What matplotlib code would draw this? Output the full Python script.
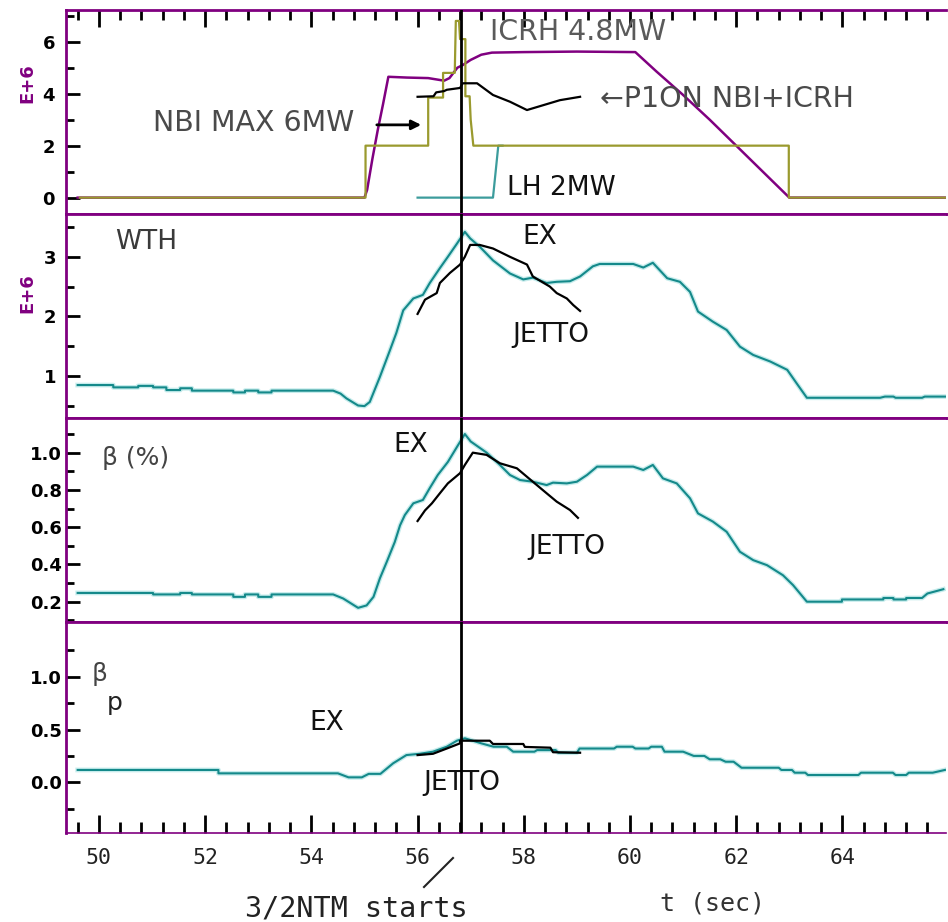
import matplotlib
matplotlib.use("Agg")
import matplotlib.pyplot as plt
import matplotlib.patheffects as pe
from matplotlib.lines import Line2D

# ---------------- data ----------------
# top panel: powers (E+6 W)
icrh_pts = [(49.6, 0), (55.0, 0), (55.05, 0.3), (55.15, 1.5), (55.25, 2.6), (55.35, 3.6),
            (55.45, 4.65), (55.8, 4.62), (56.2, 4.6), (56.5, 4.5), (56.6, 4.6), (56.75, 5.0),
            (56.85, 5.1), (57.0, 5.3), (57.2, 5.5), (57.4, 5.58), (58.0, 5.6), (59.0, 5.62),
            (60.1, 5.6), (60.5, 4.85), (61.0, 3.95), (61.5, 3.0), (62.0, 2.0), (62.5, 1.0),
            (63.0, 0.0), (65.95, 0.0)]
nbi_pts = [(49.64, 0), (55.02, 0), (55.02, 2.0), (56.2, 2.0), (56.2, 3.85), (56.48, 3.85),
           (56.48, 4.8), (56.7, 4.8), (56.72, 6.8), (56.78, 6.8), (56.8, 6.1), (56.9, 6.1),
           (56.9, 3.9), (56.98, 3.9), (57.0, 3.0), (57.05, 2.0), (62.99, 2.0), (62.99, 0.0),
           (65.93, 0.0)]
lh_pts = [(56.0, 0), (57.42, 0), (57.47, 1.0), (57.52, 2.0), (57.6, 2.0)]
p1on_pts = [(56.0, 3.88), (56.3, 3.9), (56.35, 4.05), (56.5, 4.1), (56.55, 4.15), (56.8, 4.22),
            (56.85, 4.4), (57.12, 4.4), (57.42, 3.95), (57.74, 3.69), (58.06, 3.37),
            (58.37, 3.56), (58.68, 3.75), (59.06, 3.88)]

# WTH (E+6 J)
wth_ex = [(49.6, 0.844), (50.27, 0.844), (50.27, 0.805), (50.74, 0.805), (50.74, 0.83),
          (51.02, 0.83), (51.02, 0.805), (51.27, 0.805), (51.27, 0.76), (51.53, 0.76),
          (51.53, 0.79), (51.75, 0.79), (51.75, 0.75), (52.53, 0.75), (52.53, 0.72),
          (52.75, 0.72), (52.75, 0.75), (53.0, 0.75), (53.0, 0.72), (53.25, 0.72),
          (53.25, 0.75), (54.41, 0.75), (54.55, 0.70), (54.66, 0.62), (54.88, 0.50),
          (55.0, 0.49), (55.1, 0.56), (55.29, 0.98), (55.48, 1.43), (55.6, 1.72), (55.73, 2.10),
          (55.92, 2.30), (56.1, 2.36), (56.23, 2.56), (56.42, 2.81), (56.57, 3.0), (56.74, 3.22),
          (56.89, 3.42), (56.99, 3.31), (57.17, 3.17), (57.42, 2.94), (57.74, 2.72),
          (57.99, 2.62), (58.17, 2.65), (58.43, 2.56), (58.62, 2.58), (58.87, 2.59),
          (59.06, 2.67), (59.3, 2.84), (59.43, 2.88), (60.06, 2.88), (60.25, 2.82),
          (60.43, 2.9), (60.7, 2.64), (60.94, 2.58), (61.13, 2.41), (61.28, 2.08),
          (61.56, 1.91), (61.82, 1.77), (62.07, 1.49), (62.32, 1.35), (62.64, 1.24),
          (62.96, 1.1), (63.14, 0.87), (63.33, 0.63), (64.71, 0.63), (64.8, 0.65),
          (64.96, 0.65), (65.0, 0.63), (65.5, 0.63), (65.55, 0.65), (65.93, 0.65)]
wth_jetto = [(56.0, 2.04), (56.14, 2.28), (56.36, 2.39), (56.42, 2.56), (56.61, 2.73),
             (56.8, 2.87), (56.89, 3.0), (56.99, 3.2), (57.17, 3.2), (57.42, 3.14),
             (57.74, 3.0), (58.06, 2.87), (58.17, 2.67), (58.49, 2.5), (58.62, 2.39),
             (58.81, 2.3), (58.93, 2.19), (59.06, 2.09)]

# beta (%)
beta_ex = [(49.6, 0.247), (51.02, 0.247), (51.02, 0.239), (51.53, 0.239), (51.53, 0.247),
           (51.75, 0.247), (51.75, 0.239), (52.53, 0.239), (52.53, 0.226), (52.75, 0.226),
           (52.75, 0.239), (53.0, 0.239), (53.0, 0.226), (53.25, 0.226), (53.25, 0.239),
           (54.41, 0.239), (54.6, 0.217), (54.88, 0.167), (55.04, 0.18), (55.17, 0.226),
           (55.29, 0.325), (55.42, 0.414), (55.57, 0.52), (55.67, 0.61), (55.76, 0.665),
           (55.92, 0.728), (56.1, 0.746), (56.23, 0.81), (56.38, 0.88), (56.57, 0.95),
           (56.74, 1.03), (56.89, 1.10), (57.0, 1.06), (57.3, 1.0), (57.55, 0.934),
           (57.74, 0.88), (57.93, 0.853), (58.17, 0.844), (58.43, 0.826), (58.55, 0.839),
           (58.81, 0.835), (59.0, 0.844), (59.19, 0.88), (59.38, 0.925), (60.06, 0.925),
           (60.25, 0.907), (60.43, 0.934), (60.62, 0.862), (60.88, 0.835), (61.13, 0.755),
           (61.28, 0.674), (61.56, 0.63), (61.82, 0.575), (62.07, 0.468), (62.32, 0.423),
           (62.58, 0.396), (62.88, 0.342), (63.07, 0.289), (63.33, 0.2), (63.99, 0.2),
           (63.99, 0.212), (64.77, 0.212), (64.77, 0.22), (64.96, 0.22), (64.96, 0.212),
           (65.2, 0.212), (65.2, 0.22), (65.5, 0.22), (65.6, 0.244), (65.9, 0.267)]
beta_jetto = [(56.0, 0.633), (56.14, 0.69), (56.27, 0.728), (56.42, 0.782), (56.57, 0.835),
              (56.8, 0.89), (56.89, 0.934), (57.04, 1.0), (57.3, 0.988), (57.55, 0.943),
              (57.87, 0.916), (58.17, 0.844), (58.43, 0.782), (58.62, 0.737), (58.87, 0.692),
              (59.02, 0.65)]

# beta_p
betap_ex = [(49.6, 0.117), (52.25, 0.117), (52.25, 0.085), (54.5, 0.085), (54.7, 0.047),
            (54.95, 0.047), (55.08, 0.08), (55.3, 0.08), (55.54, 0.18), (55.79, 0.258),
            (56.04, 0.27), (56.29, 0.29), (56.55, 0.337), (56.74, 0.394), (56.89, 0.417),
            (57.0, 0.40), (57.2, 0.369), (57.43, 0.337), (57.68, 0.337), (57.8, 0.29),
            (58.2, 0.29), (58.25, 0.305), (58.6, 0.305), (58.65, 0.28), (59.0, 0.28),
            (59.05, 0.32), (59.7, 0.32), (59.75, 0.337), (60.05, 0.337), (60.1, 0.32),
            (60.35, 0.32), (60.4, 0.337), (60.6, 0.337), (60.65, 0.29), (61.0, 0.29),
            (61.2, 0.25), (61.4, 0.25), (61.5, 0.218), (61.7, 0.218), (61.8, 0.195),
            (61.95, 0.195), (62.1, 0.138), (62.8, 0.138), (62.85, 0.117), (63.05, 0.117),
            (63.1, 0.091), (63.3, 0.091), (63.35, 0.069), (64.3, 0.069), (64.35, 0.091),
            (64.95, 0.091), (65.0, 0.069), (65.2, 0.069), (65.25, 0.091), (65.7, 0.091),
            (65.93, 0.117)]
betap_jetto = [(56.0, 0.258), (56.29, 0.27), (56.55, 0.32), (56.8, 0.369), (56.8, 0.394),
               (57.36, 0.394), (57.42, 0.363), (57.99, 0.363), (58.02, 0.335), (58.5, 0.328),
               (58.55, 0.285), (59.06, 0.28)]

t_ntm = 56.81
xlim = (49.38, 65.95)
x_major = [50, 52, 54, 56, 58, 60, 62, 64]
x_labels = ["50", "52", "54", "56", "58", "60", "62", "64"]

# ---------------- style ----------------
PURPLE = "#800080"
OLIVE = "#9a9a2e"
TEAL = "#14898a"
LHTEAL = "#3c9c9c"
HALO = [pe.Stroke(linewidth=3.4, foreground="#c6ecec"), pe.Normal()]
TXT = "DejaVu Sans"
MONO = "DejaVu Sans Mono"
FS = 20.5

def xy(pts):
    return [p[0] for p in pts], [p[1] for p in pts]

fig = plt.figure(figsize=(9.48, 9.22), dpi=100)
W, H = 948.0, 922.0
left = 66 / W
width = 880 / W
edges = [(10, 214), (214, 418), (418, 622), (622, 833)]
axes = []
for top, bot in edges:
    ax = fig.add_axes([left, 1 - bot / H, width, (bot - top) / H])
    axes.append(ax)

ylims = [(-0.63, 7.22), (0.29, 3.72), (0.091, 1.186), (-0.48, 1.518)]
ymaj = [[0, 2, 4, 6], [1, 2, 3], [0.2, 0.4, 0.6, 0.8, 1.0], [0.0, 0.5, 1.0]]
ymin = [[1, 3, 5, 7], [0.5, 1.5, 2.5, 3.5], [0.1, 0.3, 0.5, 0.7, 0.9, 1.1], [-0.25, 0.25, 0.75, 1.25]]
ylab = [["0", "2", "4", "6"], ["1", "2", "3"], ["0.2", "0.4", "0.6", "0.8", "1.0"], ["0.0", "0.5", "1.0"]]
ypad = [8, 7, 3, 3]

for i, ax in enumerate(axes):
    ax.set_xlim(*xlim)
    ax.set_ylim(*ylims[i])
    ax.set_yticks(ymaj[i])
    ax.set_yticklabels(ylab[i], fontfamily=TXT, fontweight="bold", fontsize=13)
    ax.set_yticks(ymin[i], minor=True)
    ax.tick_params(axis="y", which="major", direction="in", length=10, width=2,
                   color="black", left=True, right=False, pad=ypad[i])
    ax.tick_params(axis="y", which="minor", direction="in", length=6, width=2,
                   color="black", left=True, right=False)
    for s in ax.spines.values():
        s.set_color(PURPLE)
        s.set_linewidth(2)
    ax.spines["right"].set_visible(False)
    ax.set_facecolor("white")
    ax.axvline(t_ntm, color="black", lw=2, zorder=5)

minor_x = [49.6 + 0.4 * k for k in range(42) if 49.6 + 0.4 * k < 65.95]
# top panel: ticks on top
a1 = axes[0]
a1.set_xticks(x_major)
a1.set_xticks(minor_x, minor=True)
a1.tick_params(axis="x", which="both", top=True, bottom=False, labelbottom=False,
               labeltop=False, direction="in", width=2, color="black")
a1.tick_params(axis="x", which="major", length=12)
a1.tick_params(axis="x", which="minor", length=7)
for ax in axes[1:3]:
    ax.set_xticks([])
a4 = axes[3]
a4.set_xticks(x_major)
a4.set_xticklabels(x_labels, fontfamily=MONO, fontsize=15.5, color="#222222")
a4.set_xticks(minor_x, minor=True)
a4.tick_params(axis="x", which="both", top=False, bottom=True, direction="in",
               width=2, color="black", pad=11)
a4.tick_params(axis="x", which="major", length=13)
a4.tick_params(axis="x", which="minor", length=8)
a4.spines["bottom"].set_linewidth(1.2)

# ---- panel 1 ----
a1.plot(*xy(icrh_pts), color=PURPLE, lw=1.8, zorder=2)
a1.plot(*xy(lh_pts), color=LHTEAL, lw=1.6, zorder=2)
a1.plot(*xy(nbi_pts), color=OLIVE, lw=1.6, zorder=3)
a1.plot(*xy(p1on_pts), color="black", lw=1.6, zorder=4)
a1.text(57.36, 6.37, "ICRH 4.8MW", fontfamily=TXT, fontsize=FS, color="#5a5a5a",
        ha="left", va="center")
a1.text(51.02, 2.87, "NBI MAX 6MW", fontfamily=TXT, fontsize=FS, color="#4a4a4a",
        ha="left", va="center")
a1.annotate("", xy=(56.12, 2.8), xytext=(55.18, 2.8),
            arrowprops=dict(arrowstyle="-|>", color="black", lw=2, mutation_scale=14))
a1.text(59.43, 3.8, "\u2190P1ON NBI+ICRH", fontfamily=TXT, fontsize=FS, color="#4a4a4a",
        ha="left", va="center")
a1.text(57.68, 0.37, "LH 2MW", fontfamily=TXT, fontsize=FS - 1.5, color="#111111",
        ha="left", va="center")

# ---- panel 2 ----
a2 = axes[1]
a2.plot(*xy(wth_ex), color=TEAL, lw=1.5, path_effects=HALO, zorder=3)
a2.plot(*xy(wth_jetto), color="black", lw=1.6, zorder=4)
a2.text(50.3, 3.25, "WTH", fontfamily=TXT, fontsize=FS - 1.5, color="#3a3a3a", ha="left", va="center")
a2.text(57.98, 3.34, "EX", fontfamily=TXT, fontsize=FS - 1.5, color="#111111", ha="left", va="center")
a2.text(57.78, 1.68, "JETTO", fontfamily=TXT, fontsize=FS - 1.5, color="#111111", ha="left", va="center")

# ---- panel 3 ----
a3 = axes[2]
a3.plot(*xy(beta_ex), color=TEAL, lw=1.5, path_effects=HALO, zorder=3)
a3.plot(*xy(beta_jetto), color="black", lw=1.6, zorder=4)
a3.text(50.06, 0.97, "\u03b2 (%)", fontfamily=TXT, fontsize=FS - 2.5, color="#444444", ha="left", va="center")
a3.text(55.54, 1.04, "EX", fontfamily=TXT, fontsize=FS - 1.5, color="#111111", ha="left", va="center")
a3.text(58.08, 0.495, "JETTO", fontfamily=TXT, fontsize=FS - 1.5, color="#111111", ha="left", va="center")

# ---- panel 4 ----
a4.plot(*xy(betap_ex), color=TEAL, lw=1.5, path_effects=HALO, zorder=3)
a4.plot(*xy(betap_jetto), color="black", lw=1.6, zorder=4)
a4.text(49.87, 1.03, "\u03b2", fontfamily=TXT, fontsize=FS - 2.5, color="#444444", ha="left", va="center")
a4.text(50.14, 0.75, "p", fontfamily=TXT, fontsize=FS - 2.5, color="#222222", ha="left", va="center")
a4.text(53.97, 0.56, "EX", fontfamily=TXT, fontsize=FS - 1.5, color="#111111", ha="left", va="center")
a4.text(56.1, -0.005, "JETTO", fontfamily=TXT, fontsize=FS - 1.5, color="#111111", ha="left", va="center")

# ---- figure-level labels ----
fig.text(27 / W, 1 - 83 / H, "E+6", color=PURPLE, rotation=90, fontfamily=TXT,
         fontsize=13, fontweight="bold", ha="center", va="center")
fig.text(27 / W, 1 - 293 / H, "E+6", color=PURPLE, rotation=90, fontfamily=TXT,
         fontsize=13, fontweight="bold", ha="center", va="center")
fig.text(660 / W, 1 - 903 / H, "t (sec)", fontfamily=MONO, fontsize=18, color="#333333",
         ha="left", va="center")
fig.text(245 / W, 1 - 908 / H, "3/2NTM starts", fontfamily=MONO, fontsize=20.5, color="#222222",
         ha="left", va="center")
fig.add_artist(Line2D([424 / W, 453 / W], [1 - 887 / H, 1 - 858 / H], color="#222222", lw=1.5))

fig.savefig("out.png", dpi=100, facecolor="white")
